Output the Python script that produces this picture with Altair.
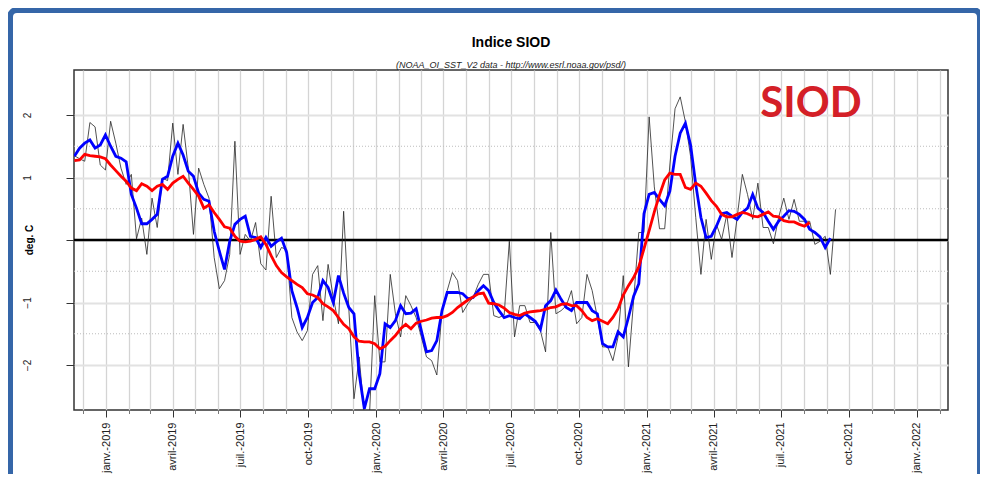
import altair as alt
import pandas as pd

# ---------------- data (weekly SIOD index, deg. C) ----------------
START_DATE = "2018-11-19"

black_values = [
    1.35, 1.30, 1.26, 1.88, 1.81, 1.20, 1.12, 1.90, 1.55, 1.15,
    0.89, 1.05, 0.02, 0.35, -0.23, 0.67, 0.20, 0.99, 0.95, 1.87,
    1.05, 1.85, 1.15, 0.09, 1.15, 0.89, 0.67, -0.28, -0.78, -0.65,
    -0.23, 1.58, -0.23, 0.09, -0.02, 0.28, -0.38, -0.48, 0.70, -0.28,
    -0.12, -0.15, -1.24, -1.47, -1.61, -1.45, -0.55, -0.41, -1.29, -0.39,
    -0.92, -1.34, 0.46, -1.10, -2.54, -1.87, -2.80, -2.80, -0.89, -1.95,
    -1.95, -0.55, -1.18, -1.55, -0.89, -1.05, -1.24, -1.55, -1.87, -1.93,
    -2.16, -1.13, -0.81, -0.52, -0.65, -1.16, -1.02, -0.92, -0.71, -0.55,
    -0.55, -1.21, -1.24, -1.20, -0.02, -1.55, -1.05, -1.05, -1.32, -1.32,
    -1.45, -1.79, 0.12, -1.18, -1.13, -1.05, -0.81, -1.34, -1.24, -0.55,
    -0.81, -1.24, -1.71, -1.71, -1.93, -1.55, -0.57, -2.03, -0.97, 0.12,
    0.12, 1.97, 0.85, 0.18, 0.18, 1.20, 2.10, 2.29, 1.89, 1.34,
    0.36, -0.55, 0.33, -0.31, 0.25, 0.01, 0.41, -0.28, 0.36, 1.05,
    0.73, 0.33, 0.91, 0.20, 0.20, -0.06, 0.36, 0.67, 0.33, 0.65,
    0.30, 0.30, 0.30, -0.07, -0.02, 0.06, -0.55, 0.49,
]

blue_values = [
    1.34, 1.47, 1.55, 1.60, 1.47, 1.52, 1.68, 1.50, 1.34, 1.31,
    1.25, 0.73, 0.51, 0.26, 0.26, 0.33, 0.41, 0.97, 1.02, 1.34,
    1.55, 1.36, 1.10, 1.02, 0.75, 0.65, 0.62, 0.14, -0.18, -0.47,
    -0.02, 0.25, 0.33, 0.38, 0.06, 0.04, -0.12, 0.04, -0.10, -0.03,
    0.03, -0.20, -0.81, -1.08, -1.40, -1.24, -1.00, -0.92, -0.65, -0.76,
    -1.00, -0.57, -0.85, -1.08, -1.18, -2.14, -2.70, -2.38, -2.38, -2.14,
    -1.34, -1.40, -1.29, -1.05, -1.18, -1.17, -1.10, -1.45, -1.79, -1.77,
    -1.61, -1.13, -0.84, -0.84, -0.84, -0.86, -0.94, -0.92, -0.81, -0.73,
    -0.81, -1.00, -1.13, -1.24, -1.21, -1.24, -1.26, -1.18, -1.24, -1.30,
    -1.43, -1.05, -0.97, -0.80, -0.95, -1.08, -1.13, -1.00, -1.00, -1.00,
    -1.13, -1.18, -1.66, -1.71, -1.71, -1.47, -1.55, -1.24, -0.90, -0.70,
    0.42, 0.73, 0.76, 0.65, 0.55, 0.78, 1.34, 1.71, 1.87, 1.52,
    0.89, 0.36, 0.04, 0.06, 0.22, 0.42, 0.44, 0.38, 0.33, 0.44,
    0.51, 0.73, 0.51, 0.44, 0.30, 0.17, 0.30, 0.38, 0.47, 0.46,
    0.41, 0.33, 0.17, 0.12, 0.05, -0.12, 0.03,
]

red_values = [
    1.27, 1.28, 1.37, 1.35, 1.34, 1.33, 1.30, 1.20, 1.11, 1.02,
    0.94, 0.83, 0.79, 0.90, 0.86, 0.79, 0.86, 0.89, 0.81, 0.91,
    0.97, 1.02, 0.91, 0.81, 0.70, 0.51, 0.56, 0.44, 0.33, 0.21,
    0.19, 0.06, -0.02, -0.03, -0.02, 0.01, 0.05, -0.07, -0.25, -0.41,
    -0.52, -0.59, -0.65, -0.71, -0.76, -0.86, -0.88, -0.92, -1.02, -1.07,
    -1.13, -1.24, -1.35, -1.42, -1.55, -1.62, -1.63, -1.63, -1.66, -1.74,
    -1.70, -1.61, -1.53, -1.42, -1.35, -1.42, -1.33, -1.30, -1.28, -1.25,
    -1.24, -1.24, -1.21, -1.16, -1.08, -1.02, -0.96, -0.91, -0.86, -0.85,
    -1.01, -1.02, -1.04, -1.09, -1.16, -1.19, -1.21, -1.17, -1.15, -1.14,
    -1.13, -1.11, -1.08, -1.07, -1.03, -1.02, -1.05, -1.05, -1.13, -1.24,
    -1.29, -1.26, -1.30, -1.34, -1.24, -1.10, -0.88, -0.73, -0.60, -0.43,
    -0.14, 0.15, 0.45, 0.72, 0.96, 1.07, 1.05, 1.05, 0.84, 0.81,
    0.91, 0.86, 0.75, 0.63, 0.54, 0.41, 0.37, 0.37, 0.41, 0.44,
    0.42, 0.38, 0.37, 0.41, 0.45, 0.38, 0.37, 0.31, 0.29, 0.29,
    0.25, 0.22, 0.28,
]

# axis ticks / labels
month_names = ["janv.", "févr.", "mars", "avril", "mai", "juin",
               "juil.", "août", "sept.", "oct", "nov.", "déc."]
major_ticks = ["2019-01-01", "2019-04-01", "2019-07-01", "2019-10-01",
               "2020-01-01", "2020-04-01", "2020-07-01", "2020-10-01",
               "2021-01-01", "2021-04-01", "2021-07-01", "2021-10-01",
               "2022-01-01"]
minor_ticks = [d.strftime("%Y-%m-%d") for d in pd.date_range("2018-12-01", "2022-02-01", freq="MS")]
y_ticks = [-2, -1, 0, 1, 2]
y_half_grid = [-1.5, -0.5, 0.5, 1.5]
x_domain = ["2018-11-18T12:00:00", "2022-02-12T00:00:00"]
y_domain = [-2.72, 2.72]

TITLE = "Indice SIOD"
SUBTITLE = "(NOAA_OI_SST_V2 data - http://www.esrl.noaa.gov/psd/)"
BADGE = "SIOD"
Y_TITLE = "deg. C"


def ms(s):
    return int(pd.Timestamp(s, tz="UTC").value // 10**6)


def series_df(values):
    dates = pd.date_range(START_DATE, periods=len(values), freq="7D")
    return pd.DataFrame({"date": [d.strftime("%Y-%m-%d") for d in dates], "v": values})


black_df = series_df(black_values)
blue_df = series_df(blue_values)
red_df = series_df(red_values)

W, H = 874, 340
FONT = "Liberation Sans"

xscale = alt.Scale(type="utc", domain=[ms(d) for d in x_domain])
yscale = alt.Scale(domain=y_domain, nice=False, zero=False)

label_expr = ("[" + ",".join("'" + m + "'" for m in month_names) + "][utcmonth(datum.value)]"
              " + '-' + utcyear(datum.value)")

major_axis = alt.Axis(values=[ms(d) for d in major_ticks], labelExpr=label_expr,
                      labelAngle=270, labelAlign="right", labelBaseline="middle",
                      labelFont=FONT, labelFontSize=11, labelColor="#222222",
                      tickSize=7, tickColor="#333333", tickWidth=1, labelPadding=5,
                      grid=False, domain=False, title=None, orient="bottom",
                      labelOverlap=False, labelFlush=False, labelBound=False)

minor_axis = alt.Axis(values=[ms(d) for d in minor_ticks], labels=False,
                      tickSize=3.5, tickColor="#555555", tickWidth=0.8,
                      grid=True, gridColor="#d4d4d4", gridWidth=1.3,
                      domain=False, title=None, orient="bottom")

y_axis = alt.Axis(values=y_ticks, labelExpr="datum.value == 0 ? '' : datum.label",
                  labelAngle=270, labelAlign="center", labelBaseline="bottom",
                  labelFont=FONT, labelFontSize=10, labelColor="#222222",
                  tickSize=8, tickColor="#333333", labelPadding=34,
                  grid=True, gridColor="#e2e2e2", gridWidth=2,
                  domain=False, title=None)

frame = alt.Chart(pd.DataFrame({"a": [0]})).mark_rect(
    fill="white", fillOpacity=0, stroke="#3566a8", strokeWidth=6, cornerRadius=7
).encode(x=alt.value(-64), x2=alt.value(906), y=alt.value(-60), y2=alt.value(440))

half_grid = alt.Chart(pd.DataFrame({"y": y_half_grid})).mark_rule(
    color="#bdbdbd", strokeWidth=1, strokeDash=[1, 2]
).encode(y=alt.Y("y:Q", scale=yscale, axis=y_axis))

zero_line = alt.Chart(pd.DataFrame({"y": [0]})).mark_rule(
    color="black", strokeWidth=2.3
).encode(y=alt.Y("y:Q", scale=yscale, axis=y_axis))

minor_layer = alt.Chart(black_df).mark_line(opacity=0).encode(
    x=alt.X("date:T", scale=xscale, axis=minor_axis),
    y=alt.Y("v:Q", scale=yscale, axis=y_axis),
)

black_line = alt.Chart(black_df).mark_line(color="#262626", strokeWidth=0.8, clip=True).encode(
    x=alt.X("date:T", scale=xscale, axis=major_axis),
    y=alt.Y("v:Q", scale=yscale, axis=y_axis),
)

blue_line = alt.Chart(blue_df).mark_line(color="#0000ff", strokeWidth=2.8, clip=True).encode(
    x=alt.X("date:T", scale=xscale, axis=None),
    y=alt.Y("v:Q", scale=yscale, axis=y_axis),
)

red_line = alt.Chart(red_df).mark_line(color="#ff0000", strokeWidth=2.8, clip=True).encode(
    x=alt.X("date:T", scale=xscale, axis=None),
    y=alt.Y("v:Q", scale=yscale, axis=y_axis),
)

title_mark = alt.Chart(pd.DataFrame({"t": [TITLE]})).mark_text(
    font=FONT, fontSize=14, fontWeight="bold", color="#000000", align="center", baseline="middle"
).encode(text="t:N", x=alt.value(W / 2), y=alt.value(-27))

subtitle_mark = alt.Chart(pd.DataFrame({"t": [SUBTITLE]})).mark_text(
    font=FONT, fontSize=9, fontStyle="italic", color="#222222", align="center", baseline="middle"
).encode(text="t:N", x=alt.value(W / 2), y=alt.value(-5))

ytitle_mark = alt.Chart(pd.DataFrame({"t": [Y_TITLE]})).mark_text(
    font=FONT, fontSize=10, fontWeight="bold", color="#000000", align="center", baseline="middle",
    angle=270
).encode(text="t:N", x=alt.value(-44), y=alt.value(170))

badge = alt.Chart(pd.DataFrame({"t": [BADGE]})).mark_text(
    font="Lato", fontSize=42, fontWeight="bold", color="#d42027",
    align="center", baseline="middle"
).encode(text="t:N", x=alt.value(737), y=alt.value(34))

chart = alt.layer(
    frame, minor_layer, half_grid, zero_line, black_line, blue_line, red_line,
    title_mark, subtitle_mark, ytitle_mark, badge
).resolve_axis(x="independent").properties(
    width=W, height=H,
    autosize=alt.AutoSizeParams(type="none"),
    padding={"left": 66, "top": 62, "right": 32, "bottom": 64},
    background="white",
).configure_view(stroke="#333333", strokeWidth=1.5)

chart.save("out.html", embed_options={"renderer": "svg", "actions": False})
